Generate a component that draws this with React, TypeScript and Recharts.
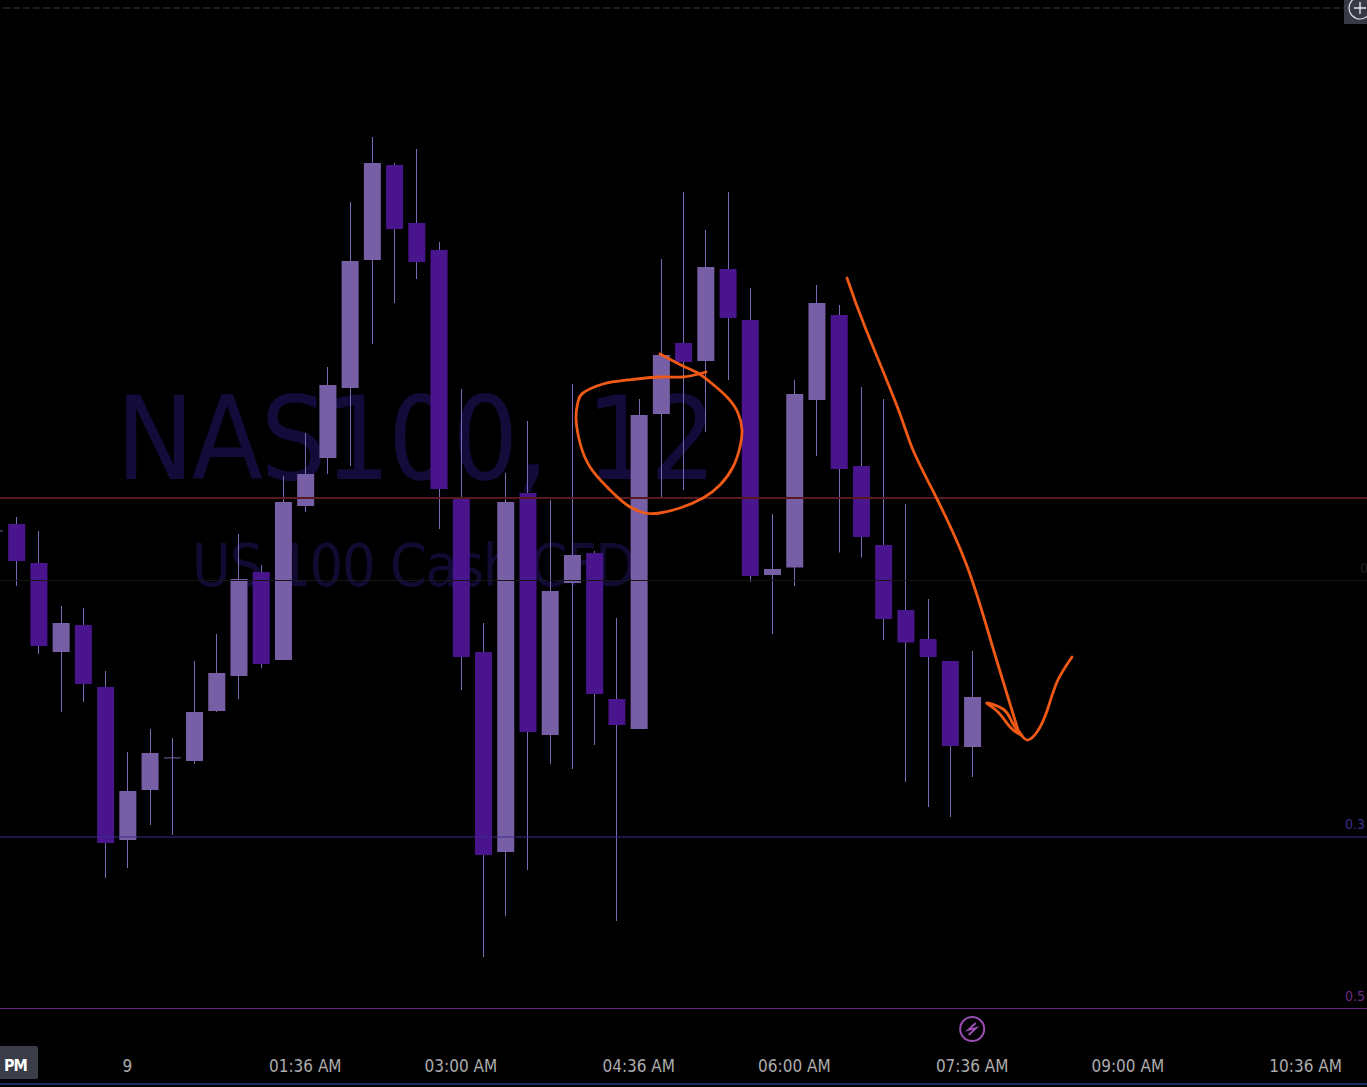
import { Bar, ComposedChart, Line, ReferenceDot, ReferenceLine, XAxis, YAxis } from "recharts";

// no price scale is visible in the screenshot, so levels are in chart units read off the picture
const slots = [-1, 0, 1, 2, 3, 4, 5, 6, 7, 8, 9, 10, 11, 12, 13, 14, 15, 16, 17, 18, 19, 20, 21, 22, 23, 24, 25, 26, 27, 28, 29, 30, 31, 32, 33, 34, 35, 36, 37, 38, 39, 40, 41, 42, 43, 44, 45, 46, 47, 48, 49, 50, 51, 52, 53, 54, 55, 56, 57, 58, 59, 60, 61];
const opens = [556, 563, 524, 435, 462, 400, 247, 297, 329, 326, 376, 411, 515, 427, 581, 629, 699, 827, 922, 864, 837, 589, 435, 235, 594, 352, 504, 534, 388, 358, 673, 744, 726, 818, 767, 512, 519.5, 687, 772, 621, 542, 477, 448, 426, 340];
const closes = [556.6, 526, 441, 464, 403, 244, 296, 334, 329.6, 375, 414, 508, 423, 585, 613, 702, 826, 924, 858, 825, 598, 430, 232, 585, 355, 496, 532, 393, 362, 672, 732, 725, 820, 769, 511, 518, 693, 784, 618, 550, 468, 444.5, 430, 341, 390];
const highs = [560, 570, 556, 481, 479, 416, 335, 358, 349, 426, 453, 553, 522, 611, 654, 720, 885, 950, 924, 938, 845, 698, 464, 614, 666, 587, 703, 536, 469, 688, 828, 895, 857, 895, 799, 573, 707, 802, 782, 700, 688, 583, 488, 426, 436];
const lows = [552, 501, 433, 375, 385, 209, 219, 262, 252, 323, 375, 388, 419, 427, 575, 613, 621, 743, 784, 808, 558, 397, 130, 171, 217, 323, 318, 342, 166, 358, 590, 597, 655, 707, 505, 453, 501, 631, 534.5, 529.5, 447, 305, 280, 270, 310];

const timeTicks = [5, 13, 20, 28, 35, 43, 50, 58];
const timeLabels = ["9", "01:36 AM", "03:00 AM", "04:36 AM", "06:00 AM", "07:36 AM", "09:00 AM", "10:36 AM"];

const topGrid = 1079;
const redLevel = 589;
const greyLevel = 506.5;
const fibLevels = [250, 78.5];
const fibLabels = ["0.3", "0.5"];
const fibColors = ["#3B2F8C", "#6A2A80"];
const alertSlot = 43;
const alertLevel = 58;

// hand drawn annotations: [x along the screen, level]
const circleStroke = [[706, 715], [683, 710], [660, 710], [627, 707], [603, 703], [583, 694], [578, 685], [576, 670], [580, 644], [590, 620], [607, 600], [627, 582], [645, 574], [660, 574], [680, 579], [703, 589], [720, 602], [733, 620], [740, 640], [742, 657], [738, 674], [727, 690], [710, 705], [698, 714], [683, 721], [660, 733]];
const arrowStroke = [[847, 809], [865, 760], [897, 681], [913, 637], [937, 588], [967, 521], [990, 449], [1003, 406], [1018, 357]];
const hookStroke = [[1018, 357], [1023, 350], [1028, 347], [1037, 355], [1047, 376], [1057, 405], [1072, 430]];
const headStroke = [[1021, 352], [1010, 360], [997, 376], [987, 384], [1003, 378], [1012, 365], [1021, 352]];

const candles = slots.map((slot, i) => ({
  slot,
  open: opens[i],
  close: closes[i],
  high: highs[i],
  low: lows[i],
  range: highs[i] === undefined ? null : [lows[i], highs[i]],
}));

const toPoints = (stroke: number[][]) => stroke.map(([x, level]) => ({ x, level }));

const DARK = "#4A148C";
const LIGHT = "#775FA6";
const WICK = "#7C68B4";
const ORANGE = "#F05A14";
const AXIS_FONT = '"DejaVu Sans Condensed", "DejaVu Sans", sans-serif';

function Candle({ x, y, width, height, payload }: any) {
  if (payload.high === undefined) return null;
  const perUnit = height / (payload.high - payload.low);
  const top = y + (payload.high - Math.max(payload.open, payload.close)) * perUnit;
  const bodyHeight = Math.max(Math.abs(payload.open - payload.close) * perUnit, 1);
  const up = payload.close > payload.open;
  const mid = Math.floor(x + width / 2);
  return (
    <g>
      <rect x={mid} y={y} width={1} height={height} fill={WICK} />
      <rect x={x} y={top} width={width} height={bodyHeight} fill={up ? LIGHT : DARK} />
    </g>
  );
}

function AlertBadge({ cx, cy }: any) {
  return (
    <g>
      <circle cx={cx} cy={cy} r={12} fill="#000" stroke="#9A4DB5" strokeWidth={2} />
      <path d={`M${cx + 3.5} ${cy - 6} L${cx - 4} ${cy + 1} L${cx + 4} ${cy - 1} L${cx - 3.5} ${cy + 6}`} fill="none" stroke="#A552BF" strokeWidth={1.8} />
    </g>
  );
}

function LevelLabel({ viewBox, value, color, left = 1345 }: any) {
  return (
    <text x={left} y={viewBox.y - 8} fill={color} fontSize={14} fontFamily={AXIS_FONT}>
      {value}
    </text>
  );
}

export default function App() {
  return (
    <div style={{ position: "absolute", left: 0, top: 0, width: 1367, height: 1087, overflow: "hidden", background: "#000" }}>
      <div style={{ position: "absolute", left: 116, top: 371, fontFamily: AXIS_FONT, fontSize: 116, lineHeight: "136px", letterSpacing: -2.5, wordSpacing: 9, color: "#130C3A", whiteSpace: "pre" }}>
        NAS100, 12
      </div>
      <div style={{ position: "absolute", left: 192, top: 531, fontFamily: AXIS_FONT, fontSize: 59, lineHeight: "70px", letterSpacing: -1.4, color: "#110B33", whiteSpace: "pre" }}>
        US 100 Cash CFD
      </div>

      <div style={{ position: "absolute", left: 0, top: 0 }}>
        <ComposedChart width={1367} height={1087} data={candles} margin={{ top: 0, right: -16.45, bottom: 0, left: -17.05 }} barCategoryGap={0}>
          <XAxis
            dataKey="slot"
            type="category"
            ticks={timeTicks}
            interval={0}
            height={47}
            tickLine={false}
            axisLine={false}
            tickFormatter={(v: number) => timeLabels[timeTicks.indexOf(v)]}
            tick={{ fill: "#ACACAC", fontSize: 17, fontFamily: AXIS_FONT, dy: 12 }}
          />
          <XAxis xAxisId="draw" type="number" dataKey="x" domain={[-17.05, 1383.45]} allowDataOverflow hide />
          <YAxis type="number" domain={[47, 1087]} allowDataOverflow hide width={0} />

          <ReferenceLine y={topGrid} stroke="#3A3A3A" strokeDasharray="7 3" />
          <ReferenceLine y={redLevel} stroke="#581A1E" strokeWidth={2} />
          <ReferenceLine y={greyLevel} stroke="#161616" strokeWidth={1} label={<LevelLabel value="0" color="#1E1E1E" left={1360} />} />
          {fibLevels.map((level, i) => (
            <ReferenceLine key={level} y={level} stroke={fibColors[i]} strokeWidth={1} label={<LevelLabel value={fibLabels[i]} color={fibColors[i]} />} />
          ))}

          <Bar dataKey="range" barSize={17} shape={<Candle />} isAnimationActive={false} />

          <ReferenceDot x={alertSlot} y={alertLevel} r={12} shape={<AlertBadge />} />

          {[circleStroke, arrowStroke, hookStroke, headStroke].map((stroke, i) => (
            <Line
              key={i}
              xAxisId="draw"
              data={toPoints(stroke)}
              dataKey="level"
              type="natural"
              stroke={ORANGE}
              strokeWidth={2.8}
              strokeLinecap="round"
              dot={false}
              activeDot={false}
              isAnimationActive={false}
            />
          ))}
        </ComposedChart>
      </div>

      <div style={{ position: "absolute", left: 0, top: 1083, width: 1367, height: 2, background: "#14305E" }} />
      <div style={{ position: "absolute", left: 0, top: 1046, width: 38, height: 33, background: "#3B3E48", borderRadius: "0 2px 2px 0", color: "#fff", fontFamily: AXIS_FONT, fontSize: 16, fontWeight: 700, letterSpacing: -1, lineHeight: "40px", paddingLeft: 4, boxSizing: "border-box" }}>
        PM
      </div>
      <div style={{ position: "absolute", left: 1344, top: 0, width: 23, height: 24, background: "#363A45", overflow: "hidden" }}>
        <svg width={23} height={24}>
          <circle cx={16} cy={8} r={11} fill="none" stroke="#D8D8D8" strokeWidth={1.2} />
          <path d="M10 8H22M16 2V14" stroke="#E6E6E6" strokeWidth={1.4} />
        </svg>
      </div>
    </div>
  );
}
